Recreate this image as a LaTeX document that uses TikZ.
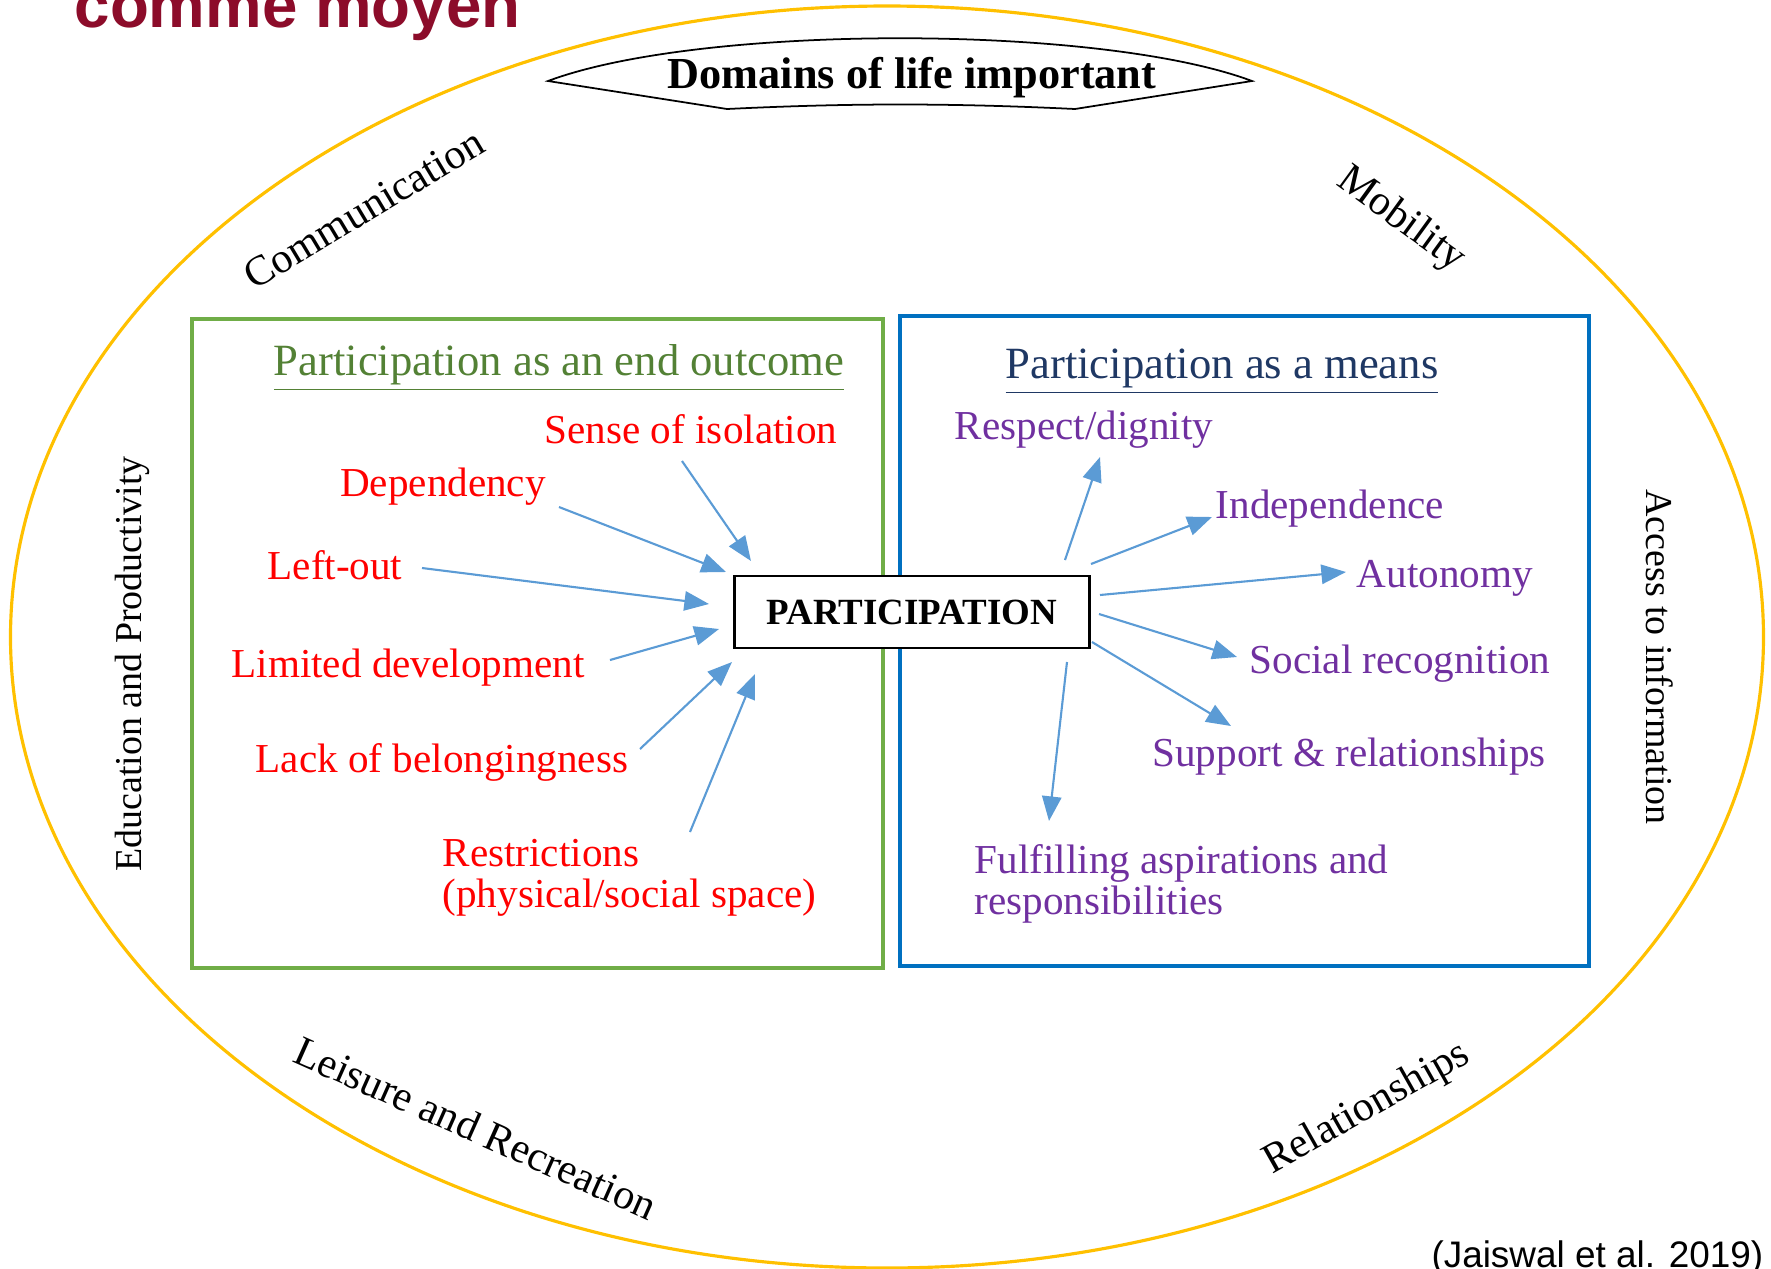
\documentclass[tikz,border=0pt]{standalone}
\usepackage{fontspec}
\setmainfont{Liberation Serif}
\newfontfamily\arialfont{Liberation Sans}
\usetikzlibrary{arrows.meta}
\definecolor{ovalyellow}{HTML}{FFC000}
\definecolor{outgreen}{HTML}{70AD47}
\definecolor{outgreentext}{HTML}{538135}
\definecolor{meansblue}{HTML}{0070C0}
\definecolor{meansnavy}{HTML}{1F3864}
\definecolor{negred}{HTML}{FF0000}
\definecolor{pospurple}{HTML}{7030A0}
\definecolor{arrowblue}{HTML}{5B9BD5}
\definecolor{slidered}{HTML}{8C0C2A}
\tikzset{
  neglabel/.style={text=negred, inner sep=0pt, anchor=mid, font=\fontsize{11.7}{11.7}\selectfont},
  gainlabel/.style={text=pospurple, inner sep=0pt, anchor=mid, font=\fontsize{11.7}{11.7}\selectfont},
  lifelabel/.style={inner sep=0pt, font=\fontsize{12}{14}\selectfont},
  sidelabel/.style={inner sep=0pt, font=\fontsize{10.8}{12}\selectfont},
  boxtitle/.style={inner sep=0pt, anchor=mid, font=\fontsize{12.7}{14}\selectfont},
  arr/.style={draw=arrowblue, line width=0.6pt, -{Triangle[length=7pt,width=5.5pt]}},
}
\begin{document}
\begin{tikzpicture}[x=0.01cm, y=-0.01cm]
    \useasboundingbox (0,0) rectangle (1771,1269);
    %% slide title, cut at the top
    \node[anchor=base west, inner sep=0pt, text=slidered,
        font=\arialfont\bfseries\fontsize{18.1}{20}\selectfont] (slidetitle) at (74,27) {comme moyen};
    %% domains of life
    \draw[ovalyellow, line width=0.9pt] (887,637) ellipse (876.5 and 631);
    \draw[line width=0.5pt, fill=white] (548,81) .. controls (700,24) and (1100,24) .. (1252,81)
        -- (1075,109) .. controls (950,103) and (850,103) .. (727,109) -- cycle;
    \node[inner sep=0pt, anchor=mid, font=\bfseries\fontsize{12.6}{14}\selectfont] (banner) at (912,80) {Domains of life important};
    \node[lifelabel, rotate=31] (comm) at (364,209) {Communication};
    \node[lifelabel, rotate=-36] (mob) at (1401,220) {Mobility};
    \node[sidelabel, rotate=90] (edu) at (132,664) {Education and Productivity};
    \node[sidelabel, rotate=-90] (access) at (1660,657) {Access to information};
    \node[lifelabel, rotate=-24] (leisure) at (476,1128) {Leisure and Recreation};
    \node[lifelabel, rotate=29.5] (rel) at (1367,1109) {Relationships};
    %% the two boxes
    \draw[outgreen, line width=0.9pt] (192,319) rectangle (883,968);
    \draw[meansblue, line width=0.9pt] (900,316) rectangle (1589,966);
    \node[boxtitle, text=outgreentext] (endtitle) at (559,367) {\underline{Participation as an end outcome}};
    \node[boxtitle, text=meansnavy] (meanstitle) at (1222,370) {\underline{Participation as a means}};
    \node[draw, fill=white, line width=0.7pt, minimum width=3.55cm, minimum height=0.72cm,
        font=\bfseries\fontsize{10.5}{12}\selectfont] (part) at (912,612) {PARTICIPATION};
    %% end outcome
    \node[neglabel] (iso) at (691,435) {Sense of isolation};
    \node[neglabel] (dep) at (443,488) {Dependency};
    \node[neglabel] (leftout) at (335,571) {Left-out};
    \node[neglabel] (limdev) at (408,669) {Limited development};
    \node[neglabel] (lack) at (442,764) {Lack of belongingness};
    \node[neglabel, anchor=west, align=left] (restr) at (442,878) {Restrictions\\(physical/social space)};
    \foreach \from/\fs/\ts in {iso.mid/{-9,26}/{-161,-51}, dep.mid/{116,19}/{-186,-40},
            leftout.mid/{87,-3}/{-203,-8}, limdev.mid/{202,-9}/{-193,17},
            lack.mid/{198,-15}/{-180,50}, restr.west/{248,-46}/{-157,62}}
        \draw[arr] ([shift={(\fs)}]\from) -- ([shift={(\ts)}]part.center);
    %% as a means
    \node[gainlabel] (resp) at (1084,431) {Respect/dignity};
    \node[gainlabel] (indep) at (1330,510) {Independence};
    \node[gainlabel] (auton) at (1445,579) {Autonomy};
    \node[gainlabel] (socrec) at (1400,665) {Social recognition};
    \node[gainlabel] (supp) at (1349,758) {Support \& relationships};
    \node[gainlabel, anchor=west, align=left] (fulf) at (974,884) {Fulfilling aspirations and\\responsibilities};
    \foreach \to/\fs/\ts in {resp.mid/{153,-52}/{16,26}, indep.mid/{179,-48}/{-118,7},
            auton.mid/{188,-17}/{-99,-7}, socrec.mid/{187,2}/{-163,-8},
            supp.mid/{180,30}/{-118,-32}, fulf.west/{155,50}/{75,-63}}
        \draw[arr] ([shift={(\fs)}]part.center) -- ([shift={(\ts)}]\to);
    %% source
    \node[anchor=base east, inner sep=0pt, font=\arialfont\fontsize{10.5}{12}\selectfont] (cite) at (1764,1267) {(Jaiswal et al. 2019)};
\end{tikzpicture}
\end{document}
